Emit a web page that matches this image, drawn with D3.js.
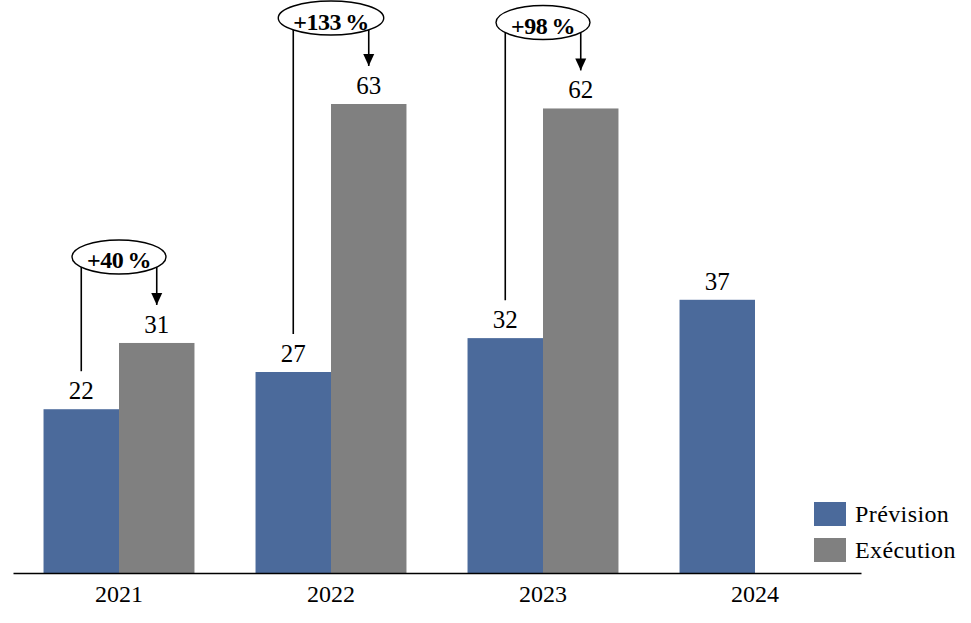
<!DOCTYPE html>
<html>
<head>
<meta charset="utf-8">
<script src="https://cdn.jsdelivr.net/npm/d3@7"></script>
<style>
  html, body { margin: 0; padding: 0; background: #fff; }
  svg { display: block; }
  text { font-family: "Liberation Serif", "Times New Roman", serif; fill: #000; }
</style>
</head>
<body>
<svg id="chart" width="971" height="623"></svg>
<script>
// ---- data ----
const years = ["2021", "2022", "2023", "2024"];
const prevision = [22, 27, 31.55, 36.7];
const execution = [30.9, 63, 62.4, null];
const gapYears = ["2021", "2022", "2023"];
const gapPct = [40, 133, 98];
const seriesNames = ["Prévision", "Exécution"];
const colors = ["#4b6a9b", "#808080"];

// ---- layout ----
const svg = d3.select("#chart");
const baseY = 573;
const x = d3.scaleBand().domain(years).range([13, 861]).paddingInner(0.288).paddingOuter(0.144);
const xs = d3.scaleBand().domain(seriesNames).range([0, x.bandwidth()]);
const y = d3.scaleLinear().domain([0, 63]).range([baseY, 104]);
const fmt = d3.format(".0f");

const data = years.map((yr, i) => ({ yr, vals: [prevision[i], execution[i]] }));

const groups = svg.append("g").selectAll("g").data(data).join("g")
  .attr("transform", d => `translate(${x(d.yr)},0)`);

groups.selectAll("rect")
  .data(d => d.vals.map((v, k) => ({ v, k })).filter(e => e.v != null))
  .join("rect")
  .attr("x", e => xs(seriesNames[e.k]))
  .attr("y", e => y(e.v))
  .attr("width", xs.bandwidth())
  .attr("height", e => y(0) - y(e.v))
  .attr("fill", e => colors[e.k]);

groups.selectAll("text.val")
  .data(d => d.vals.map((v, k) => ({ v, k })).filter(e => e.v != null))
  .join("text")
  .attr("class", "val")
  .attr("x", e => xs(seriesNames[e.k]) + xs.bandwidth() / 2)
  .attr("y", e => y(e.v) - 10)
  .attr("text-anchor", "middle")
  .style("font-size", "25px")
  .text(e => fmt(e.v));

// ---- axis ----
const axis = svg.append("g")
  .attr("transform", `translate(0,${baseY})`)
  .call(d3.axisBottom(x).tickSize(0).tickSizeOuter(0).tickPadding(11));
axis.select(".domain").attr("stroke", "#000").attr("stroke-width", 1.6);
axis.selectAll(".tick text")
  .style("font-family", "'Liberation Serif', serif")
  .style("font-size", "24px")
  .attr("fill", "#000")
  .attr("dy", "0.75em");

// ---- annotations ----
const defs = svg.append("defs");
defs.append("marker")
  .attr("id", "arr").attr("viewBox", "0 0 12 12")
  .attr("refX", 12).attr("refY", 6)
  .attr("markerWidth", 12).attr("markerHeight", 12)
  .attr("markerUnits", "userSpaceOnUse")
  .attr("orient", "auto")
  .append("path").attr("d", "M0,0.5 L12,6 L0,11.5 Z").attr("fill", "#000");

const ann = svg.append("g");
gapYears.forEach((yr, i) => {
  const idx = years.indexOf(yr);
  const p = prevision[idx], e = execution[idx];
  const cx = x(yr) + x.bandwidth() / 2;
  const cy = y(e) - 86;
  const xl = x(yr) + xs(seriesNames[0]) + xs.bandwidth() / 2;
  const xr = x(yr) + xs(seriesNames[1]) + xs.bandwidth() / 2;
  const g = ann.append("g");
  g.append("line").attr("x1", xl).attr("x2", xl).attr("y1", cy).attr("y2", y(p) - 38)
    .attr("stroke", "#000").attr("stroke-width", 1.6);
  g.append("line").attr("x1", xr).attr("x2", xr).attr("y1", cy).attr("y2", y(e) - 38)
    .attr("stroke", "#000").attr("stroke-width", 1.6).attr("marker-end", "url(#arr)");
  const el = g.append("ellipse").attr("cx", cx).attr("cy", cy).attr("ry", 17)
    .attr("fill", "#fff").attr("stroke", "#000").attr("stroke-width", 1.4);
  const t = g.append("text").attr("x", cx).attr("y", cy + 11.5)
    .attr("text-anchor", "middle")
    .style("font-size", "24px").style("font-weight", "bold").style("letter-spacing", "-0.5px")
    .text("+" + gapPct[i] + "\u2009%");
  const w = t.node().getComputedTextLength();
  el.attr("rx", w / 2 + 15);
});

// ---- legend ----
const leg = svg.append("g").attr("transform", "translate(814,502)");
seriesNames.forEach((n, k) => {
  const r = leg.append("g").attr("transform", `translate(0,${k * 36})`);
  r.append("rect").attr("width", 32).attr("height", 24).attr("fill", colors[k]);
  r.append("text").attr("x", 41).attr("y", 20)
    .style("font-size", "24px").style("letter-spacing", "0.4px").text(n);
});
</script>
</body>
</html>
